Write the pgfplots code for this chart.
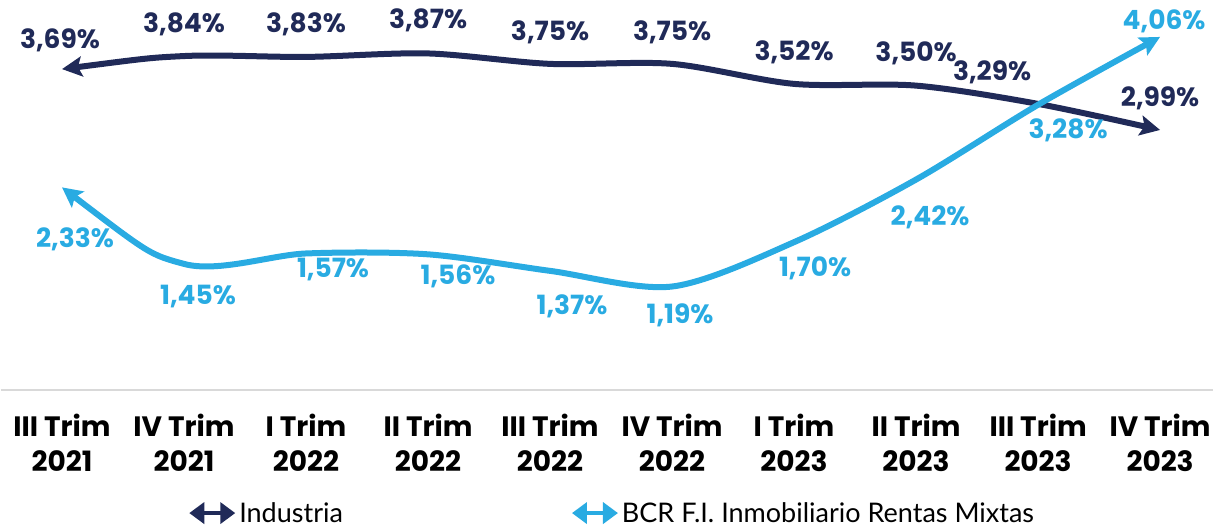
\documentclass[border=0pt]{standalone}
\usepackage{fontspec}
\setmainfont{Poppins}
\newfontfamily\legfont{Lato}
\usepackage{pgfplots}
\pgfplotsset{compat=1.18}
\usetikzlibrary{arrows.meta}
\definecolor{navy}{RGB}{32,42,88}
\definecolor{sky}{RGB}{41,171,226}
\begin{document}
\begin{tikzpicture}
\begin{axis}[
  scale only axis, width=1214pt, height=387pt,
  xmin=-0.5, xmax=9.45, ymin=0, ymax=4.45,
  axis line style={draw=none},
  ytick=\empty,
  xtick={0,...,9},
  xticklabels={{III Trim\\2021},{IV Trim\\2021},{I Trim\\2022},{II Trim\\2022},{III Trim\\2022},{IV Trim\\2022},{I Trim\\2023},{II Trim\\2023},{III Trim\\2023},{IV Trim\\2023}},
  major tick length=0pt,
  xticklabel style={font=\fontsize{28}{35}\selectfont\bfseries, align=center, anchor=north, yshift=-21pt, text=black},
  clip=false,
  legend columns=2,
  legend style={draw=none, at={(0.503,-0.318)}, anchor=center, font=\legfont\fontsize{27}{27}\selectfont,
    /tikz/every even column/.append style={column sep=225pt}},
]
\draw[black!15, line width=1.5pt] (axis cs:-0.5,0) -- (axis cs:9.45,0);
\addplot[navy, line width=6pt, smooth, tension=0.5,
  {Stealth[length=20pt,width=20pt,inset=4pt]}-{Stealth[length=20pt,width=20pt,inset=4pt]},
  legend image code/.code={\draw[navy, line width=4pt, {Triangle[length=15pt,width=21pt]}-{Triangle[length=15pt,width=21pt]}] (0pt,0pt) -- (46pt,0pt);}]
  coordinates {(0,3.69) (1,3.84) (2,3.83) (3,3.87) (4,3.75) (5,3.75) (6,3.52) (7,3.50) (8,3.29) (9,2.99)};
\addlegendentry{Industria}
\addplot[sky, line width=6pt, smooth, tension=0.5,
  {Stealth[length=20pt,width=20pt,inset=4pt]}-{Stealth[length=20pt,width=20pt,inset=4pt]},
  legend image code/.code={\draw[sky, line width=4pt, {Triangle[length=15pt,width=21pt]}-{Triangle[length=15pt,width=21pt]}] (0pt,0pt) -- (46pt,0pt);}]
  coordinates {(0,2.33) (1,1.45) (2,1.57) (3,1.56) (4,1.37) (5,1.19) (6,1.70) (7,2.42) (8,3.28) (9,4.06)};
\addlegendentry{BCR F.I. Inmobiliario Rentas Mixtas}
\tikzset{lbl/.style={font=\fontsize{26.5}{26.5}\selectfont\bfseries, inner sep=0pt}}
% Industria labels
\node[lbl, text=navy, xshift=-2pt, yshift=29pt] at (axis cs:0,3.69) {3,69\%};
\node[lbl, text=navy, yshift=32pt] at (axis cs:1,3.84) {3,84\%};
\node[lbl, text=navy, yshift=33pt] at (axis cs:2,3.83) {3,83\%};
\node[lbl, text=navy, yshift=33pt] at (axis cs:3,3.87) {3,87\%};
\node[lbl, text=navy, yshift=32pt] at (axis cs:4,3.75) {3,75\%};
\node[lbl, text=navy, yshift=32pt] at (axis cs:5,3.75) {3,75\%};
\node[lbl, text=navy, yshift=32pt] at (axis cs:6,3.52) {3,52\%};
\node[lbl, text=navy, yshift=32pt] at (axis cs:7,3.50) {3,50\%};
\node[lbl, text=navy, xshift=-46pt, yshift=32pt] at (axis cs:8,3.29) {3,29\%};
\node[lbl, text=navy, yshift=32pt] at (axis cs:9,2.99) {2,99\%};
% BCR labels
\node[lbl, text=sky, xshift=13pt, yshift=-52pt] at (axis cs:0,2.33) {2,33\%};
\node[lbl, text=sky, xshift=14pt, yshift=-33pt] at (axis cs:1,1.45) {1,45\%};
\node[lbl, text=sky, xshift=27pt, yshift=-16pt] at (axis cs:2,1.57) {1,57\%};
\node[lbl, text=sky, xshift=30pt, yshift=-22pt] at (axis cs:3,1.56) {1,56\%};
\node[lbl, text=sky, xshift=22pt, yshift=-35pt] at (axis cs:4,1.37) {1,37\%};
\node[lbl, text=sky, xshift=8pt, yshift=-29pt] at (axis cs:5,1.19) {1,19\%};
\node[lbl, text=sky, xshift=21pt, yshift=-26pt] at (axis cs:6,1.70) {1,70\%};
\node[lbl, text=sky, xshift=14pt, yshift=-38pt] at (axis cs:7,2.42) {2,42\%};
\node[lbl, text=sky, xshift=30pt, yshift=-26pt] at (axis cs:8,3.28) {3,28\%};
\node[lbl, text=sky, xshift=4pt, yshift=16pt] at (axis cs:9,4.06) {4,06\%};
\end{axis}
\pgfresetboundingbox
\path (-1pt,-141pt) rectangle (1212pt,390pt);
\end{tikzpicture}
\end{document}
